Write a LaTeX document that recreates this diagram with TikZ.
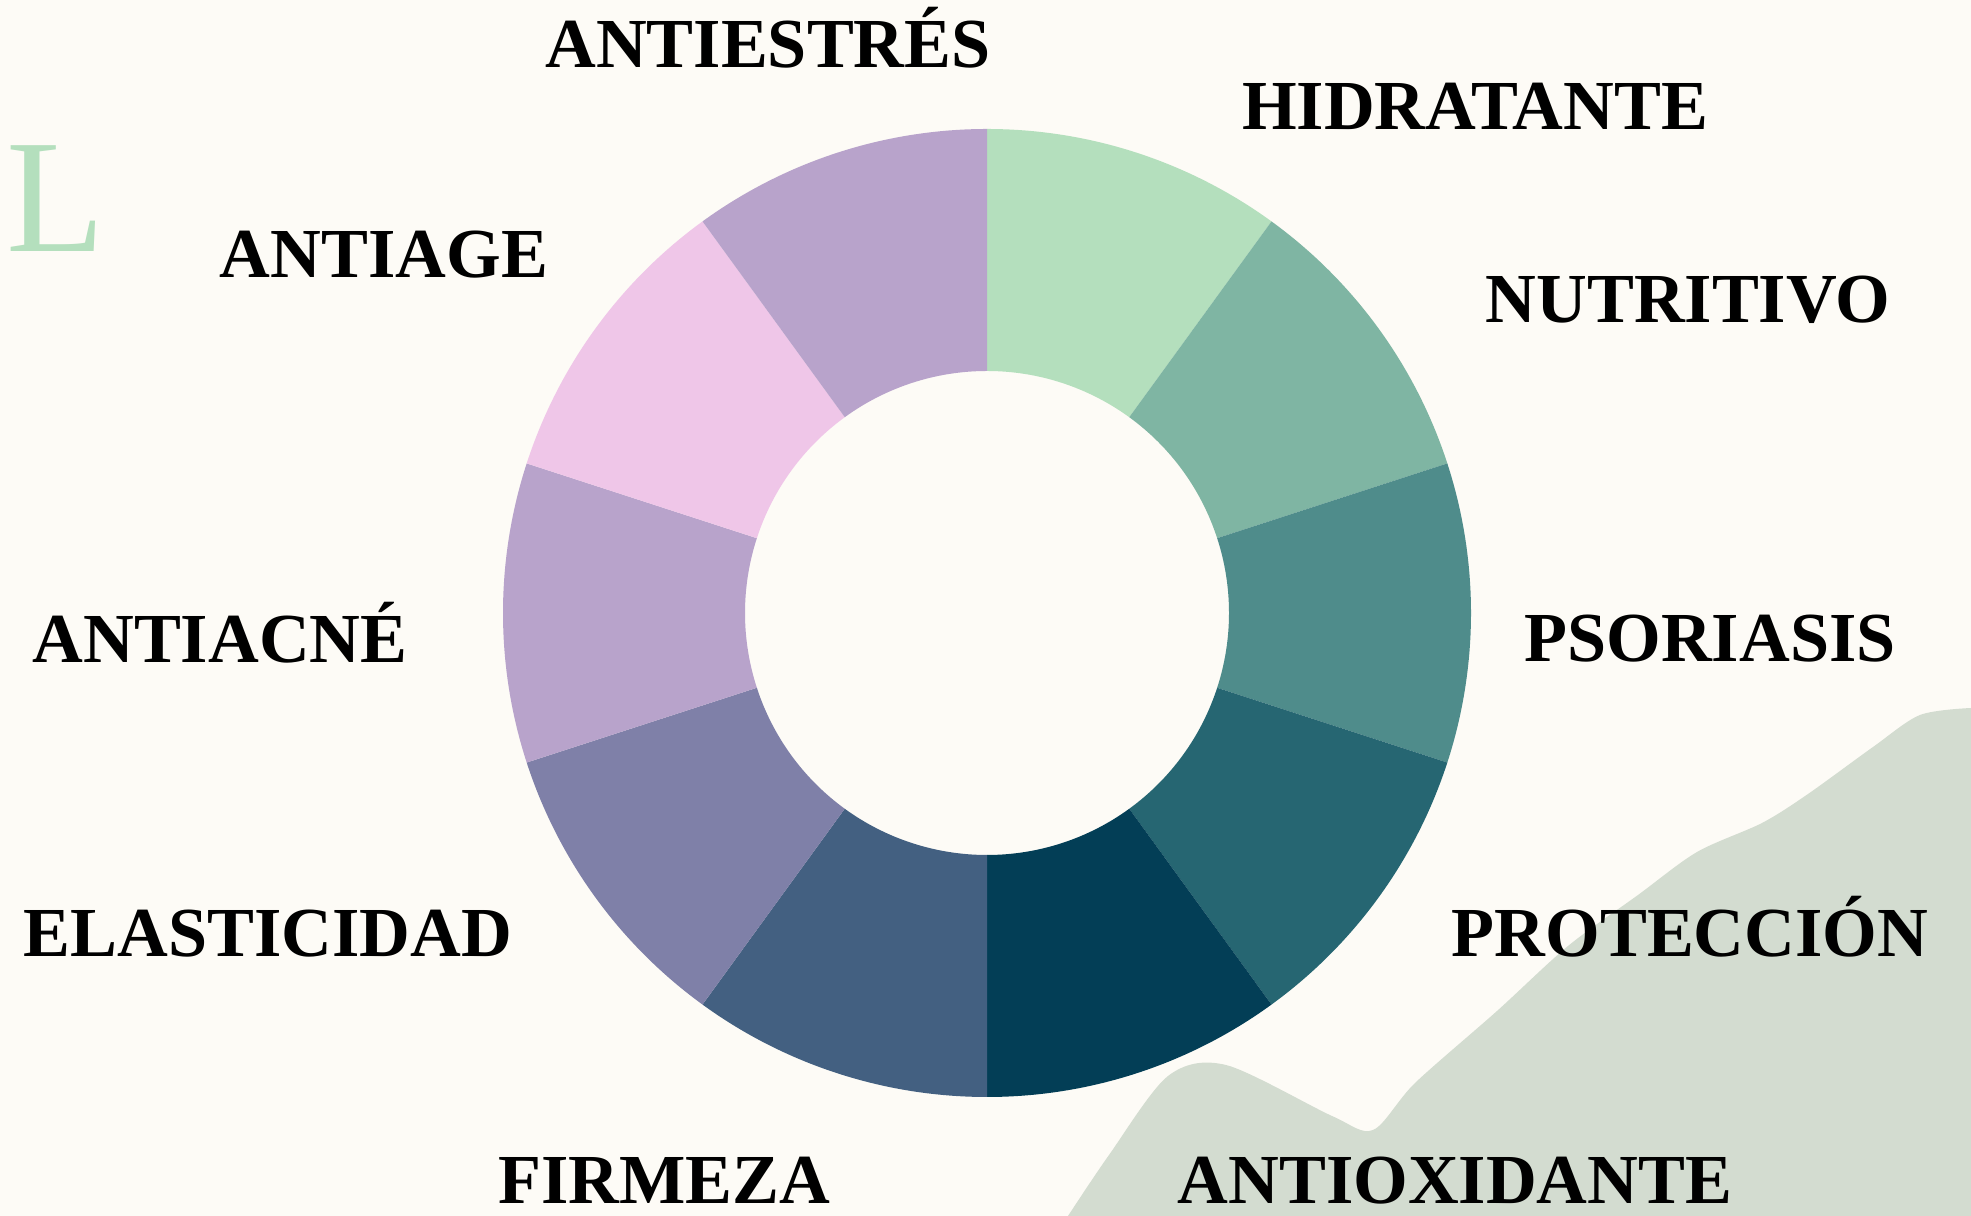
\documentclass[tikz,border=0pt]{standalone}
\usepackage{fontspec}
\setmainfont{Liberation Serif}
\usepackage{tikz}
\usetikzlibrary{calc}
\definecolor{paper}{HTML}{FDFBF6}
\definecolor{brush}{HTML}{D3DCD0}
\definecolor{hidra}{HTML}{B4DFBD}
\definecolor{nutri}{HTML}{7FB5A3}
\definecolor{psori}{HTML}{4F8C8B}
\definecolor{protec}{HTML}{266672}
\definecolor{antiox}{HTML}{033E56}
\definecolor{firme}{HTML}{436081}
\definecolor{elast}{HTML}{7F80A8}
\definecolor{lila}{HTML}{B8A3CB}
\definecolor{rosa}{HTML}{EFC6E8}
\tikzstyle{benefit}=[font=\fontsize{40}{48}\selectfont\bfseries, text=black, inner sep=0pt, anchor=base]
\tikzstyle{initial}=[font=\fontsize{92}{100}\selectfont, text=hidra, inner sep=0pt, anchor=base east]

\begin{document}
\begin{tikzpicture}[x=0.02cm, y=0.02cm]

    \fill[paper] (0,0) rectangle (1971,1216);
    \useasboundingbox (0,0) rectangle (1971,1216);
    \clip (0,0) rectangle (1971,1216);

    % brush stroke in the lower right corner
    \fill[brush] plot[smooth] coordinates {(1971,508) (1920,501) (1873,469) (1808,422) (1762,393) (1697,364) (1638,321) (1568,270) (1497,205) (1415,133) (1373,86) (1332,100) (1226,151) (1168,140) (1109,61) (1068,0)} -- (1971,0) -- cycle;

    \node[initial] (letter) at (106,964) {L};

    % ring of ten slices, clockwise from the top
    \coordinate (centre) at (987,603);
    \foreach \a/\col in {90/hidra, 54/nutri, 18/psori, -18/protec, -54/antiox, -90/firme, -126/elast, -162/lila, -198/rosa, -234/lila}
        \fill[\col] ($(centre)+(\a:484)$) arc[start angle=\a, end angle=\a-36, radius=484] -- ($(centre)+(\a-36:242)$) arc[start angle=\a-36, end angle=\a, radius=242] -- cycle;

    \foreach \pos/ \name/ \txt in {{(768,1148)/antiestres/ANTIESTRÉS}, {(1475,1086)/hidratante/HIDRATANTE}, {(1688,893)/nutritivo/NUTRITIVO}, {(1710,554)/psoriasis/PSORIASIS}, {(1690,259)/proteccion/PROTECCIÓN}, {(1455,12)/antioxidante/ANTIOXIDANTE}, {(664,12)/firmeza/FIRMEZA}, {(268,259)/elasticidad/ELASTICIDAD}, {(220,553)/antiacne/ANTIACNÉ}, {(384,938)/antiage/ANTIAGE}}
        \node[benefit] (\name) at \pos {\txt};

\end{tikzpicture}
\end{document}
